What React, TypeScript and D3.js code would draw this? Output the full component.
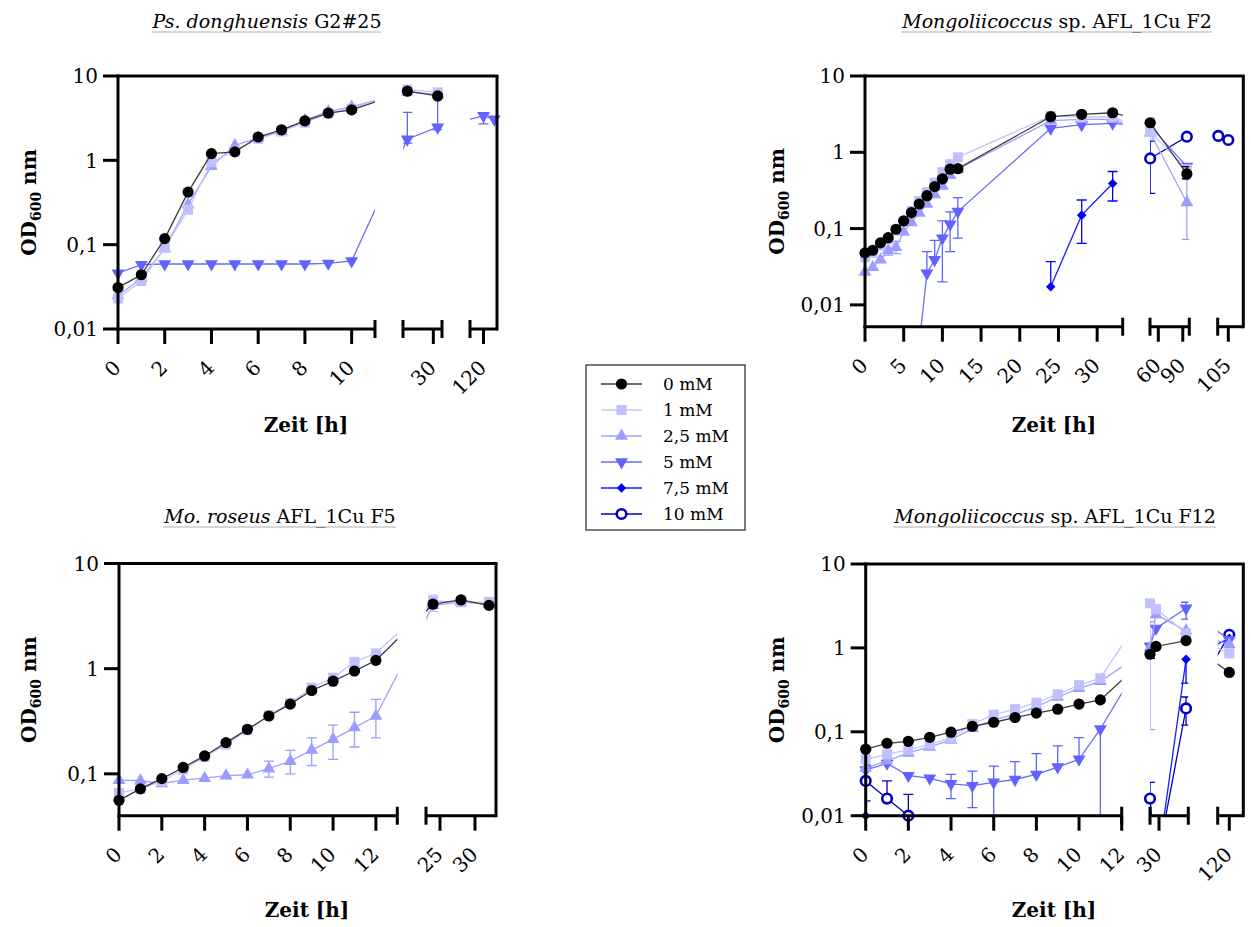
import React, { useLayoutEffect, useRef, useState } from 'react';
import * as d3 from 'd3';

// legend / series names
const concentrations = ['0 mM', '1 mM', '2,5 mM', '5 mM', '7,5 mM', '10 mM'];

// Ps. donghuensis G2#25
const p1Times = [0, 1, 2, 3, 4, 5, 6, 7, 8, 9, 10, 24, 31, 120, 124];
const p1Od0 = [0.031, 0.044, 0.118, 0.42, 1.2, 1.26, 1.89, 2.3, 2.94, 3.63, 3.97, 6.6, 5.8, null, null];
const p1Od1 = [0.023, 0.037, 0.092, 0.26, 0.95, 1.3, 1.8, 2.2, 2.8, 3.6, 4.1, 6.9, 6.4, null, null];
const p1Od25 = [0.025, 0.04, 0.09, 0.3, 0.85, 1.5, 1.85, 2.2, 3.0, 3.8, 4.3, 6.5, 6.0, null, null];
const p1Od5 = [0.046, 0.058, 0.059, 0.059, 0.059, 0.059, 0.059, 0.059, 0.059, 0.06, 0.064, 1.78, 2.47, 3.37, 3.07];
const p1Err5 = [[24, 1.6, 3.7], [31, 2.3, 5.6], [120, 2.7, 3.5]];

// Mongoliicoccus sp. AFL_1Cu F2
const p2Times = [0, 1, 2, 3, 4, 5, 6, 7, 8, 9, 10, 11, 12, 24, 28, 32, 50, 95, 100, 105];
const p2Od0 = [0.048, 0.052, 0.065, 0.076, 0.098, 0.126, 0.162, 0.21, 0.27, 0.355, 0.447, 0.6, 0.61, 2.93, 3.15, 3.3, 2.44, 0.52, null, null];
const p2Od1 = [0.042, 0.048, 0.06, 0.072, 0.095, 0.125, 0.17, 0.23, 0.3, 0.4, 0.55, 0.7, 0.86, 3.0, 2.9, 2.9, 1.86, 0.6, null, null];
const p2Od25 = [0.027, 0.031, 0.039, 0.052, 0.057, 0.09, 0.12, 0.16, 0.21, 0.28, 0.36, 0.5, 0.6, 2.6, 2.7, 2.7, 1.8, 0.22, null, null];
const p2Od5 = [null, null, null, null, null, null, null, 0.003, 0.026, 0.039, 0.075, 0.114, 0.167, 2.06, 2.3, 2.4, 2.2, 0.65, null, null];
const p2Od75 = [null, null, null, null, null, null, null, null, null, null, null, null, null, 0.0173, 0.15, 0.39, null, null, null, null];
const p2Od10 = [null, null, null, null, null, null, null, null, null, null, null, null, null, null, null, null, 0.83, 1.6, 1.64, 1.45];
const p2Err0 = [[95, 0.45, 0.65]];
const p2Err1 = [[50, 1.5, 2.8]];
const p2Err25 = [[3, 0.045, 0.065], [4, 0.047, 0.068], [95, 0.072, 0.45]];
const p2Err5 = [[8, 0.026, 0.05], [9, 0.039, 0.07], [10, 0.02, 0.126], [11, 0.05, 0.166], [12, 0.075, 0.255]];
const p2Err75 = [[24, 0.0173, 0.037], [28, 0.064, 0.237], [32, 0.23, 0.56]];
const p2Err10 = [[50, 0.29, 1.4]];

// Mo. roseus AFL_1Cu F5
const p3Times = [0, 1, 2, 3, 4, 5, 6, 7, 8, 9, 10, 11, 12, 24, 28, 32];
const p3Od0 = [0.056, 0.072, 0.09, 0.115, 0.148, 0.198, 0.265, 0.355, 0.46, 0.62, 0.76, 0.95, 1.2, 4.1, 4.5, 4.0];
const p3Od1 = [0.066, 0.072, 0.085, 0.11, 0.145, 0.19, 0.26, 0.36, 0.47, 0.66, 0.82, 1.16, 1.4, 4.4, 4.3, 4.3];
const p3Od25 = [0.087, 0.086, 0.081, 0.087, 0.091, 0.096, 0.098, 0.112, 0.132, 0.168, 0.213, 0.275, 0.355, 4.0, 4.3, 4.1];
const p3Err1 = [[24, 3.5, 5.0], [28, 3.9, 4.9], [32, 3.8, 4.7]];
const p3Err25 = [[7, 0.093, 0.132], [8, 0.1, 0.167], [9, 0.12, 0.22], [10, 0.137, 0.29], [11, 0.18, 0.385], [12, 0.22, 0.51]];

// Mongoliicoccus sp. AFL_1Cu F12
const p4Times = [0, 1, 2, 3, 4, 5, 6, 7, 8, 9, 10, 11, 24, 28, 48, 120];
const p4Od0 = [0.062, 0.073, 0.077, 0.086, 0.099, 0.116, 0.13, 0.148, 0.167, 0.186, 0.214, 0.24, 0.84, 1.04, 1.22, 0.51];
const p4Od1 = [0.047, 0.054, 0.061, 0.071, 0.084, 0.124, 0.16, 0.186, 0.223, 0.28, 0.36, 0.435, 3.4, 2.9, 1.5, 0.86];
const p4Od25 = [0.037, 0.045, 0.056, 0.066, 0.08, 0.11, 0.14, 0.16, 0.2, 0.26, 0.33, 0.4, 1.0, 2.5, 1.6, 1.1];
const p4Od5 = [0.035, 0.042, 0.03, 0.028, 0.024, 0.0228, 0.025, 0.027, 0.031, 0.038, 0.047, 0.108, 1.05, 1.71, 2.97, 1.25];
const p4Od75 = [0.01, null, null, null, null, null, null, null, null, null, null, null, null, 0.002, 0.73, 1.3];
const p4Od10 = [0.026, 0.016, 0.01, null, null, null, null, null, null, null, null, null, 0.016, 0.0024, 0.19, 1.43];
const p4Err0 = [[24, 0.75, 0.95]];
const p4Err25 = [[24, 0.106, 2.06]];
const p4Err5 = [[4, 0.016, 0.031], [5, 0.0125, 0.034], [6, 0.01, 0.039], [7, 0.027, 0.044], [8, 0.031, 0.055], [9, 0.038, 0.068], [10, 0.047, 0.085], [11, 0.001, 0.108], [48, 2.2, 3.5]];
const p4Err75 = [[48, 0.38, 0.73]];
const p4Err10 = [[0, 0.015, 0.04], [1, 0.016, 0.026], [2, 0.01, 0.018], [24, 0.016, 0.025], [48, 0.12, 0.26]];

const styles = [
  { color: '#000000', line: '#3c3c3c', shape: 'circle' },
  { color: '#c0c0ff', line: '#c4c4ff', shape: 'square' },
  { color: '#9c9cff', line: '#a0a0ff', shape: 'triangle' },
  { color: '#6262ff', line: '#6a6aff', shape: 'triangleDown' },
  { color: '#0000ff', line: '#1a1aff', shape: 'diamond' },
  { color: '#0000c4', line: '#0000c4', shape: 'open' },
];

const panels = [
  {
    id: 'p1', italic: 'Ps. donghuensis', rest: ' G2#25', titleX: 267, titleY: 28,
    left: 118, top: 76, bottom: 329, right: 497, yDomain: [0.01, 10],
    segs: [
      { d: [0, 11], r: [118, 375], ticks: [0, 2, 4, 6, 8, 10] },
      { d: [23, 32], r: [403, 442], ticks: [30] },
      { d: [115, 125], r: [470, 497], ticks: [120] },
    ],
    yLabelX: 36, xLabelX: 306, xLabelY: 432,
    times: p1Times,
    series: [p1Od0, p1Od1, p1Od25, p1Od5, null, null],
    errors: [null, null, null, p1Err5, null, null],
  },
  {
    id: 'p2', italic: 'Mongoliicoccus', rest: ' sp. AFL_1Cu F2', titleX: 1057, titleY: 28,
    left: 865, top: 76, bottom: 326.7, right: 1243.3, yDomain: [Math.pow(10, -2.286), 10],
    segs: [
      { d: [0, 33.3], r: [865, 1122.7], ticks: [0, 5, 10, 15, 20, 25, 30] },
      { d: [49.8, 98], r: [1150, 1189.3], ticks: [60, 90] },
      { d: [99.7, 112.5], r: [1217.7, 1243.3], ticks: [105] },
    ],
    yLabelX: 784, xLabelX: 1054, xLabelY: 432,
    times: p2Times,
    series: [p2Od0, p2Od1, p2Od25, p2Od5, p2Od75, p2Od10],
    errors: [p2Err0, p2Err1, p2Err25, p2Err5, p2Err75, p2Err10],
  },
  {
    id: 'p3', italic: 'Mo. roseus', rest: ' AFL_1Cu F5', titleX: 280, titleY: 523,
    left: 119, top: 563.5, bottom: 815.7, right: 496, yDomain: [0.04, 10],
    segs: [
      { d: [0, 13], r: [119, 397.3], ticks: [0, 2, 4, 6, 8, 10, 12] },
      { d: [23, 33], r: [426, 496], ticks: [25, 30] },
    ],
    yLabelX: 36, xLabelX: 307, xLabelY: 917,
    times: p3Times,
    series: [p3Od0, p3Od1, p3Od25, null, null, null],
    errors: [null, p3Err1, p3Err25, null, null, null],
  },
  {
    id: 'p4', italic: 'Mongoliicoccus', rest: ' sp. AFL_1Cu F12', titleX: 1055, titleY: 523,
    left: 865.7, top: 564, bottom: 815.7, right: 1243.3, yDomain: [0.01, 10],
    segs: [
      { d: [0, 12], r: [865.7, 1121.7], ticks: [0, 2, 4, 6, 8, 10, 12] },
      { d: [24, 49.5], r: [1150, 1188.3], ticks: [30] },
      { d: [114.2, 127], r: [1217.7, 1243.3], ticks: [120] },
    ],
    yLabelX: 784, xLabelX: 1054, xLabelY: 917,
    times: p4Times,
    series: [p4Od0, p4Od1, p4Od25, p4Od5, p4Od75, p4Od10],
    errors: [p4Err0, null, p4Err25, p4Err5, p4Err75, p4Err10],
  },
];

const FONT = '"DejaVu Serif", serif';

const fmtY = (v: number) => String(v).replace('.', ',');

const Marker = ({ shape, x, y, color }: any) => {
  if (shape === 'circle') return <circle cx={x} cy={y} r={5.6} fill={color} />;
  if (shape === 'open') return <circle cx={x} cy={y} r={4.8} fill="#fff" stroke={color} strokeWidth={2.6} />;
  if (shape === 'square') return <rect x={x - 5} y={y - 5} width={10} height={10} fill={color} />;
  if (shape === 'diamond') {
    const p = d3.symbol(d3.symbolSquare, 46)();
    return <path d={p!} transform={`translate(${x},${y}) rotate(45)`} fill={color} />;
  }
  const p = d3.symbol(d3.symbolTriangle, 72)();
  return <path d={p!} transform={`translate(${x},${y})${shape === 'triangleDown' ? ' rotate(180)' : ''}`} fill={color} />;
};

// title with a thin grey underline measured from the text
const Title = ({ cfg }: any) => {
  const ref = useRef<SVGTextElement>(null);
  const [box, setBox] = useState<any>(null);
  useLayoutEffect(() => {
    if (ref.current) {
      const b = ref.current.getBBox();
      setBox({ x: b.x, w: b.width });
    }
  }, []);
  return (
    <g>
      <text ref={ref} x={cfg.titleX} y={cfg.titleY} textAnchor="middle" fontFamily={FONT} fontSize={19}>
        <tspan fontStyle="italic">{cfg.italic}</tspan>
        <tspan>{cfg.rest}</tspan>
      </text>
      {box && (
        <line x1={box.x} x2={box.x + box.w} y1={cfg.titleY + 4} y2={cfg.titleY + 4} stroke="#9a9a9a" strokeWidth={0.8} />
      )}
    </g>
  );
};

const Panel = ({ cfg }: any) => {
  const y = d3.scaleLog().domain(cfg.yDomain).range([cfg.bottom, cfg.top]);
  const segScales = cfg.segs.map((s: any) => d3.scaleLinear().domain(s.d).range(s.r));
  const x = (t: number) => {
    let i = cfg.segs.findIndex((s: any) => t >= s.d[0] - 1e-9 && t <= s.d[1] + 1e-9);
    if (i < 0) i = t < cfg.segs[0].d[0] ? 0 : cfg.segs.length - 1;
    return segScales[i](t);
  };
  const [yMin, yMax] = cfg.yDomain;
  const inY = (v: number) => v >= yMin * 0.999 && v <= yMax * 1.001;
  const line = d3.line<any>()
    .defined((d) => d.v != null)
    .x((d) => x(d.t))
    .y((d) => y(d.v));
  const decades = d3.range(-2, 2).map((k) => Math.pow(10, k)).filter((v) => v >= yMin * 0.999 && v <= yMax * 1.001);
  const clipId = `clip-${cfg.id}`;
  const order = [5, 4, 3, 2, 1, 0];
  const bw = 3;

  return (
    <g>
      <defs>
        <clipPath id={clipId}>
          {cfg.segs.map((s: any, i: number) => (
            <rect key={i} x={s.r[0]} y={cfg.top} width={s.r[1] - s.r[0]} height={cfg.bottom - cfg.top} />
          ))}
        </clipPath>
      </defs>

      <Title cfg={cfg} />

      {/* data */}
      {order.map((si) => {
        const vals = cfg.series[si];
        if (!vals) return null;
        const st = styles[si];
        const pts = cfg.times.map((t: number, i: number) => ({ t, v: vals[i] }));
        const errs = cfg.errors[si] || [];
        return (
          <g key={si}>
            <path d={line(pts)!} fill="none" stroke={st.line} strokeWidth={1.3} clipPath={`url(#${clipId})`} />
            <g clipPath={`url(#${clipId})`} stroke={st.color} strokeWidth={1.3}>
              {errs.map((e: number[], k: number) => {
                const [t, lo, hi] = e;
                const v = vals[cfg.times.indexOf(t)];
                const xx = x(t);
                return (
                  <g key={k}>
                    <line x1={xx} x2={xx} y1={y(lo)} y2={y(hi)} />
                    {hi > v && <line x1={xx - 5} x2={xx + 5} y1={y(hi)} y2={y(hi)} />}
                    {lo < v && <line x1={xx - 5} x2={xx + 5} y1={y(lo)} y2={y(lo)} />}
                  </g>
                );
              })}
            </g>
            {pts.filter((p: any) => p.v != null && inY(p.v)).map((p: any, k: number) => (
              <Marker key={k} shape={st.shape} x={x(p.t)} y={y(p.v)} color={st.color} />
            ))}
          </g>
        );
      })}

      {/* frame and axes */}
      <g stroke="#000" strokeWidth={bw} fill="none">
        <line x1={cfg.left} x2={cfg.left} y1={cfg.top - bw / 2} y2={cfg.bottom + bw / 2} />
        <line x1={cfg.left} x2={cfg.right + bw / 2} y1={cfg.top} y2={cfg.top} />
        <line x1={cfg.right} x2={cfg.right} y1={cfg.top} y2={cfg.bottom + bw / 2} />
        {cfg.segs.map((s: any, i: number) => {
          const last = i === cfg.segs.length - 1;
          return (
            <g key={i}>
              <line x1={s.r[0] - (i === 0 ? bw / 2 : 0)} x2={s.r[1]} y1={cfg.bottom} y2={cfg.bottom} />
              {i > 0 && <line x1={s.r[0]} x2={s.r[0]} y1={cfg.bottom - 9} y2={cfg.bottom + 9} />}
              {!last && <line x1={s.r[1]} x2={s.r[1]} y1={cfg.bottom - 9} y2={cfg.bottom + 9} />}
              {s.ticks.map((t: number) => (
                <line key={t} x1={segScales[i](t)} x2={segScales[i](t)} y1={cfg.bottom} y2={cfg.bottom + 15} />
              ))}
            </g>
          );
        })}
        {decades.map((v) => (
          <line key={v} x1={cfg.left - 15} x2={cfg.left} y1={y(v)} y2={y(v)} />
        ))}
      </g>

      {/* tick labels */}
      <g fontFamily={FONT} fontSize={20} fill="#000">
        {decades.map((v) => (
          <text key={v} x={cfg.left - 20} y={y(v)} dy="0.36em" textAnchor="end">{fmtY(v)}</text>
        ))}
        {cfg.segs.map((s: any, i: number) =>
          s.ticks.map((t: number) => {
            const px = segScales[i](t) + 4;
            const py = cfg.bottom + 40;
            return (
              <text key={`${i}-${t}`} x={px} y={py} textAnchor="end" transform={`rotate(-45 ${px} ${py})`}>{t}</text>
            );
          })
        )}
      </g>

      {/* axis titles */}
      <text x={cfg.xLabelX} y={cfg.xLabelY} textAnchor="middle" fontFamily={FONT} fontSize={20} fontWeight="bold">Zeit [h]</text>
      <text transform={`translate(${cfg.yLabelX},${(cfg.top + cfg.bottom) / 2}) rotate(-90)`} textAnchor="middle"
        fontFamily={FONT} fontSize={20} fontWeight="bold">
        OD<tspan fontSize={14} dy={5}>600</tspan><tspan dy={-5}> nm</tspan>
      </text>
    </g>
  );
};

const Legend = () => {
  const x0 = 586, y0 = 365, w = 159, h = 165;
  const rowY = (i: number) => 384 + i * 26;
  return (
    <g>
      <rect x={x0} y={y0} width={w} height={h} fill="#fff" stroke="#222" strokeWidth={1.2} />
      {concentrations.map((c, i) => (
        <g key={c}>
          <line x1={601} x2={642} y1={rowY(i)} y2={rowY(i)} stroke={styles[i].line} strokeWidth={1.3} />
          <Marker shape={styles[i].shape} x={621.5} y={rowY(i)} color={styles[i].color} />
          <text x={663} y={rowY(i)} dy="0.36em" fontFamily={FONT} fontSize={17}>{c}</text>
        </g>
      ))}
    </g>
  );
};

export default function App() {
  return (
    <svg width={1251} height={927} style={{ position: 'absolute', left: 0, top: 0, background: '#fff' }}>
      <rect width={1251} height={927} fill="#fff" />
      {panels.map((p) => <Panel key={p.id} cfg={p} />)}
      <Legend />
    </svg>
  );
}
